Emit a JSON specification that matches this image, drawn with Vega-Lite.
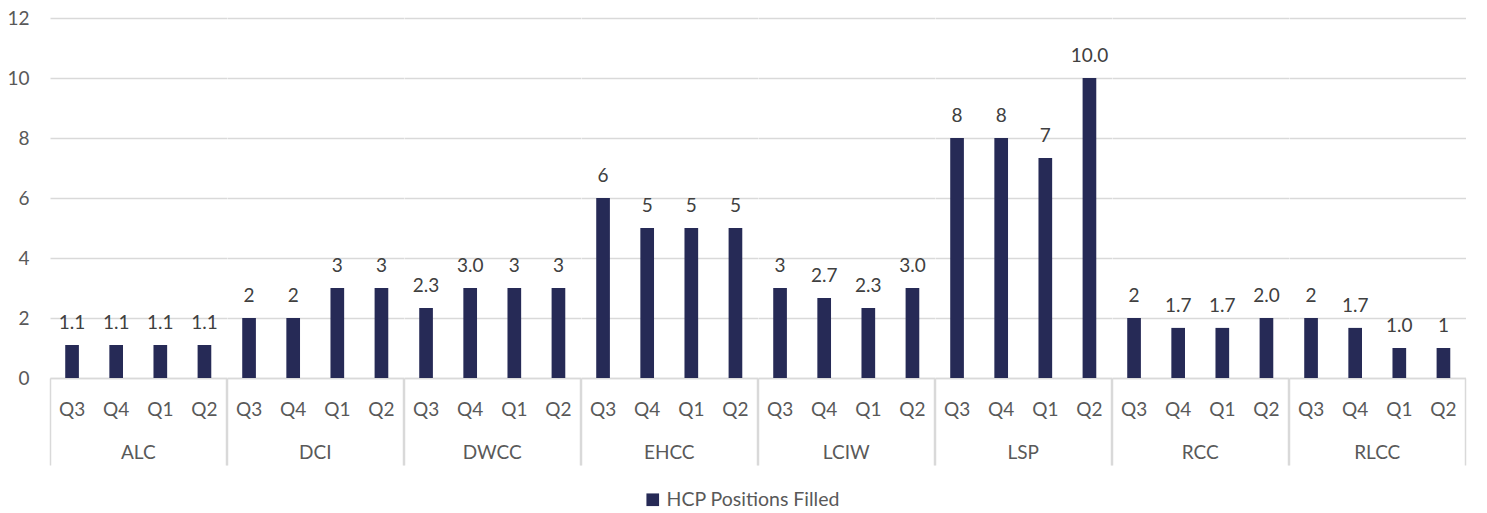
{
  "$schema": "https://vega.github.io/schema/vega-lite/v6.json",
  "padding": {"left": 6, "top": 9, "right": 5, "bottom": 0},
  "data": {"values": [
    {"site": "ALC", "q": "Q3", "v": 1.1, "label": "1.1", "series": "HCP Positions Filled"},
    {"site": "ALC", "q": "Q4", "v": 1.1, "label": "1.1", "series": "HCP Positions Filled"},
    {"site": "ALC", "q": "Q1", "v": 1.1, "label": "1.1", "series": "HCP Positions Filled"},
    {"site": "ALC", "q": "Q2", "v": 1.1, "label": "1.1", "series": "HCP Positions Filled"},
    {"site": "DCI", "q": "Q3", "v": 2, "label": "2", "series": "HCP Positions Filled"},
    {"site": "DCI", "q": "Q4", "v": 2, "label": "2", "series": "HCP Positions Filled"},
    {"site": "DCI", "q": "Q1", "v": 3, "label": "3", "series": "HCP Positions Filled"},
    {"site": "DCI", "q": "Q2", "v": 3, "label": "3", "series": "HCP Positions Filled"},
    {"site": "DWCC", "q": "Q3", "v": 2.33, "label": "2.3", "series": "HCP Positions Filled"},
    {"site": "DWCC", "q": "Q4", "v": 3, "label": "3.0", "series": "HCP Positions Filled"},
    {"site": "DWCC", "q": "Q1", "v": 3, "label": "3", "series": "HCP Positions Filled"},
    {"site": "DWCC", "q": "Q2", "v": 3, "label": "3", "series": "HCP Positions Filled"},
    {"site": "EHCC", "q": "Q3", "v": 6, "label": "6", "series": "HCP Positions Filled"},
    {"site": "EHCC", "q": "Q4", "v": 5, "label": "5", "series": "HCP Positions Filled"},
    {"site": "EHCC", "q": "Q1", "v": 5, "label": "5", "series": "HCP Positions Filled"},
    {"site": "EHCC", "q": "Q2", "v": 5, "label": "5", "series": "HCP Positions Filled"},
    {"site": "LCIW", "q": "Q3", "v": 3, "label": "3", "series": "HCP Positions Filled"},
    {"site": "LCIW", "q": "Q4", "v": 2.67, "label": "2.7", "series": "HCP Positions Filled"},
    {"site": "LCIW", "q": "Q1", "v": 2.33, "label": "2.3", "series": "HCP Positions Filled"},
    {"site": "LCIW", "q": "Q2", "v": 3, "label": "3.0", "series": "HCP Positions Filled"},
    {"site": "LSP", "q": "Q3", "v": 8, "label": "8", "series": "HCP Positions Filled"},
    {"site": "LSP", "q": "Q4", "v": 8, "label": "8", "series": "HCP Positions Filled"},
    {"site": "LSP", "q": "Q1", "v": 7.33, "label": "7", "series": "HCP Positions Filled"},
    {"site": "LSP", "q": "Q2", "v": 10, "label": "10.0", "series": "HCP Positions Filled"},
    {"site": "RCC", "q": "Q3", "v": 2, "label": "2", "series": "HCP Positions Filled"},
    {"site": "RCC", "q": "Q4", "v": 1.67, "label": "1.7", "series": "HCP Positions Filled"},
    {"site": "RCC", "q": "Q1", "v": 1.67, "label": "1.7", "series": "HCP Positions Filled"},
    {"site": "RCC", "q": "Q2", "v": 2, "label": "2.0", "series": "HCP Positions Filled"},
    {"site": "RLCC", "q": "Q3", "v": 2, "label": "2", "series": "HCP Positions Filled"},
    {"site": "RLCC", "q": "Q4", "v": 1.67, "label": "1.7", "series": "HCP Positions Filled"},
    {"site": "RLCC", "q": "Q1", "v": 1, "label": "1.0", "series": "HCP Positions Filled"},
    {"site": "RLCC", "q": "Q2", "v": 1, "label": "1", "series": "HCP Positions Filled"}
  ]},
  "facet": {
    "column": {
      "field": "site", "type": "nominal",
      "sort": ["ALC", "DCI", "DWCC", "EHCC", "LCIW", "LSP", "RCC", "RLCC"],
      "header": {"title": null, "labelOrient": "bottom", "labelFont": "Lato", "labelFontSize": 19, "labelColor": "#595959", "labelPadding": -22}
    }
  },
  "spacing": 0,
  "spec": {
    "width": 176.5,
    "height": 360,
    "encoding": {
      "x": {
        "field": "q", "type": "nominal", "sort": ["Q3", "Q4", "Q1", "Q2"],
        "scale": {"paddingInner": 0, "paddingOuter": 0},
        "axis": {
          "title": null, "labelAngle": 0, "bandPosition": 1, "tickExtra": true,
          "tickSize": 87, "tickWidth": 1.5,
          "tickColor": {"condition": {"test": "datum.value === 'Q2' || datum.extra", "value": "#d9d9d9"}, "value": "transparent"},
          "domainColor": "#d9d9d9", "domainWidth": 1.5,
          "labelPadding": -65, "labelFont": "Lato", "labelFontSize": 19, "labelColor": "#595959"
        }
      },
      "y": {
        "field": "v", "type": "quantitative",
        "scale": {"domain": [0, 12]},
        "axis": {"title": null, "values": [0, 2, 4, 6, 8, 10, 12], "domain": false, "ticks": false, "gridColor": "#d9d9d9", "gridWidth": 1.5, "labelPadding": 21, "labelFont": "Lato", "labelFontSize": 19, "labelColor": "#595959"}
      }
    },
    "layer": [
      {
        "mark": {"type": "bar", "width": {"band": 0.31}},
        "encoding": {
          "color": {"field": "series", "type": "nominal", "scale": {"range": ["#262a56"]},
            "legend": {"title": null, "orient": "none", "legendX": 593, "legendY": 472, "direction": "horizontal", "symbolType": "square", "symbolSize": 160, "labelLimit": 0, "labelFont": "Lato", "labelFontSize": 19.5, "labelColor": "#595959"}}
        }
      },
      {
        "mark": {"type": "text", "baseline": "alphabetic", "dy": -16, "font": "Lato", "fontSize": 19, "color": "#404040"},
        "encoding": {"text": {"field": "label"}}
      }
    ]
  },
  "config": {"view": {"stroke": null}}
}
